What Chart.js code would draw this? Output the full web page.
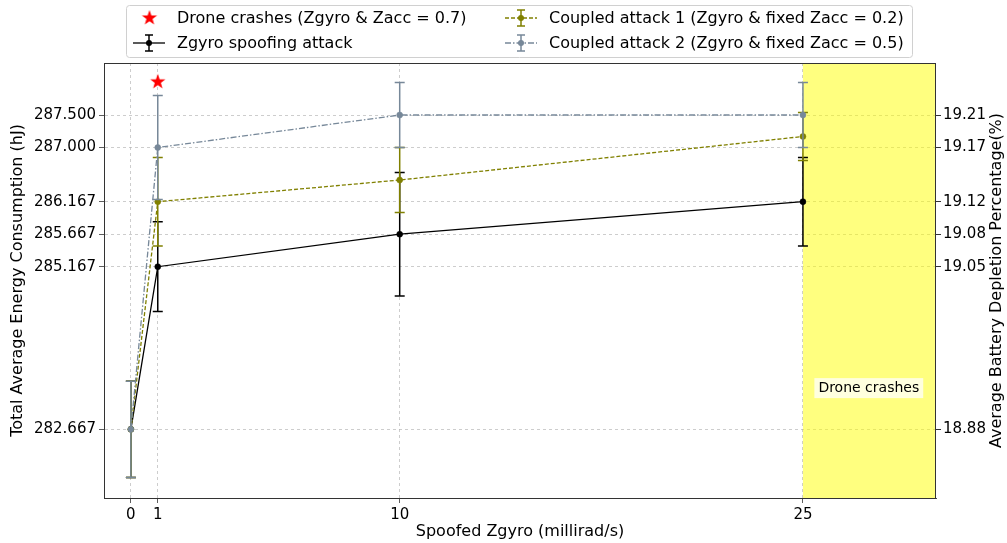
<!DOCTYPE html>
<html>
<head>
<meta charset="utf-8">
<script src="https://cdn.jsdelivr.net/npm/chart.js@4.4.1/dist/chart.umd.min.js"></script>
<style>
  body { margin: 0; background: #fff; }
  #wrap { width: 1007px; height: 543px; }
</style>
</head>
<body>
<div id="wrap"><canvas id="chart" width="1007" height="543"></canvas></div>
<script>
// spoofed Zgyro values (x)
var xVals = [0, 1, 10, 25];

// energy consumption (hJ) and error half-widths
var zgyro = [282.667, 285.167, 285.667, 286.167];
var zgyroErr = [0.74, 0.69, 0.95, 0.68];
var coupled1 = [282.667, 286.167, 286.50, 287.17];
var coupled1Err = [0.74, 0.68, 0.50, 0.37];
var coupled2 = [282.667, 287.0, 287.5, 287.5];
var coupled2Err = [0.74, 0.80, 0.50, 0.50];

// crash marker
var crashX = [1];
var crashY = [288.01];

// axis ticks
var leftTicks = [282.667, 285.167, 285.667, 286.167, 287.0, 287.5];
var leftLabels = ['282.667', '285.167', '285.667', '286.167', '287.000', '287.500'];
var rightLabels = ['18.88', '19.05', '19.08', '19.12', '19.17', '19.21'];

var FONT = 'DejaVu Sans';
var BLACK = '#000000', OLIVE = '#808000', GRAY = '#778899';

function pts(xs, ys) {
    return xs.map(function(x, i) { return { x: x, y: ys[i] }; });
}

// filled star for the crash marker
function makeStar(r, color) {
    var c = document.createElement('canvas');
    c.width = r * 2 + 2;
    c.height = r * 2 + 2;
    var g = c.getContext('2d');
    g.fillStyle = color;
    g.beginPath();
    for (var i = 0; i < 10; i++) {
        var rr = i % 2 == 0 ? r : r * 0.4;
        var a = -Math.PI / 2 + i * Math.PI / 5;
        var px = r + 1 + rr * Math.cos(a), py = r + 1 + rr * Math.sin(a);
        if (i == 0) g.moveTo(px, py); else g.lineTo(px, py);
    }
    g.closePath();
    g.fill();
    return c;
}
var starImg = makeStar(8, '#ff0000');

var errorBars = {
    id: 'errorBars',
    afterDatasetDraw: function(chart, args) {
        var ds = chart.data.datasets[args.index];
        if (!ds.errs) return;
        var ctx = chart.ctx, xs = chart.scales.x, ys = chart.scales.y;
        ctx.save();
        ctx.strokeStyle = ds.errColor;
        ctx.lineWidth = 1.5;
        ds.data.forEach(function(p, i) {
            var px = xs.getPixelForValue(p.x);
            var top = ys.getPixelForValue(p.y + ds.errs[i]);
            var bot = ys.getPixelForValue(p.y - ds.errs[i]);
            ctx.beginPath();
            ctx.moveTo(px, top); ctx.lineTo(px, bot);
            ctx.moveTo(px - 5, top); ctx.lineTo(px + 5, top);
            ctx.moveTo(px - 5, bot); ctx.lineTo(px + 5, bot);
            ctx.stroke();
        });
        ctx.restore();
    }
};

var crashZone = {
    id: 'crashZone',
    beforeDatasetsDraw: function(chart) {
        var ctx = chart.ctx, a = chart.chartArea, xs = chart.scales.x;
        var x0 = xs.getPixelForValue(25);
        ctx.save();
        ctx.fillStyle = 'rgba(255,255,0,0.5)';
        ctx.fillRect(x0, a.top, a.right - x0, a.bottom - a.top);
        ctx.restore();
    },
    afterDatasetsDraw: function(chart) {
        var ctx = chart.ctx, xs = chart.scales.x, ys = chart.scales.y, a = chart.chartArea;
        var cx = xs.getPixelForValue(27.45), cy = ys.getPixelForValue(283.30);
        ctx.save();
        ctx.font = '14px "' + FONT + '"';
        var w = ctx.measureText('Drone crashes').width;
        ctx.fillStyle = 'rgba(255,255,255,0.75)';
        ctx.fillRect(cx - w / 2 - 4, cy - 10, w + 8, 20);
        ctx.fillStyle = '#000';
        ctx.textAlign = 'center';
        ctx.textBaseline = 'middle';
        ctx.fillText('Drone crashes', cx, cy);
        // frame of the plot
        ctx.strokeStyle = '#333';
        ctx.lineWidth = 1;
        ctx.strokeRect(a.left + 0.5, a.top + 0.5, a.right - a.left - 1, a.bottom - a.top);
        ctx.restore();
    }
};

// legend box with error-bar glyphs, two columns; right axis title reading upwards
var legendBox = {
    id: 'legendBox',
    afterDraw: function(chart) {
        var ctx = chart.ctx;
        ctx.save();
        ctx.fillStyle = 'rgba(255,255,255,0.9)';
        ctx.strokeStyle = '#d0d0d0';
        ctx.lineWidth = 1;
        ctx.beginPath();
        ctx.roundRect(126.5, 5.5, 786, 52, 3);
        ctx.fill();
        ctx.stroke();

        ctx.font = '16px "' + FONT + '"';
        ctx.textBaseline = 'middle';
        ctx.fillStyle = '#000';
        var items = [
            { x: 149, y: 18, text: 'Drone crashes (Zgyro & Zacc = 0.7)', star: true },
            { x: 149, y: 43, text: 'Zgyro spoofing attack', color: BLACK, dash: [] },
            { x: 521, y: 18, text: 'Coupled attack 1 (Zgyro & fixed Zacc = 0.2)', color: OLIVE, dash: [4, 2] },
            { x: 521, y: 43, text: 'Coupled attack 2 (Zgyro & fixed Zacc = 0.5)', color: GRAY, dash: [6, 2, 1.5, 2] }
        ];
        items.forEach(function(it) {
            if (it.star) {
                ctx.drawImage(starImg, it.x - starImg.width / 2 + 0.5, it.y - starImg.height / 2);
            } else {
                ctx.strokeStyle = it.color;
                ctx.lineWidth = 1.3;
                ctx.setLineDash(it.dash);
                ctx.beginPath();
                ctx.moveTo(it.x - 16, it.y); ctx.lineTo(it.x + 16, it.y);
                ctx.stroke();
                ctx.setLineDash([]);
                ctx.lineWidth = 1.5;
                ctx.beginPath();
                ctx.moveTo(it.x, it.y - 8); ctx.lineTo(it.x, it.y + 8);
                ctx.moveTo(it.x - 4, it.y - 8); ctx.lineTo(it.x + 4, it.y - 8);
                ctx.moveTo(it.x - 4, it.y + 8); ctx.lineTo(it.x + 4, it.y + 8);
                ctx.stroke();
                ctx.fillStyle = it.color;
                ctx.beginPath();
                ctx.arc(it.x, it.y, 3, 0, Math.PI * 2);
                ctx.fill();
            }
            ctx.fillStyle = '#000';
            ctx.fillText(it.text, it.x + 28, it.y + 1);
        });

        // right axis title
        var a = chart.chartArea;
        ctx.translate(997, (a.top + a.bottom) / 2);
        ctx.rotate(-Math.PI / 2);
        ctx.textAlign = 'center';
        ctx.textBaseline = 'middle';
        ctx.fillText('Average Battery Depletion Percentage(%)', 0, 0);
        ctx.restore();
    }
};

var gridOpts = {
    color: 'rgba(176,176,176,0.8)',
    lineWidth: 0.8,
    tickColor: '#333',
    tickLength: 5,
    tickBorderDash: []
};
var borderOpts = { color: '#333', width: 1, dash: [3, 3] };

var ctx = document.getElementById('chart').getContext('2d');
var myChart = new Chart(ctx, {
    type: 'scatter',
    data: {
        datasets: [{
            label: 'Drone crashes (Zgyro & Zacc = 0.7)',
            data: pts(crashX, crashY),
            pointStyle: starImg,
            order: 0
        }, {
            label: 'Zgyro spoofing attack',
            data: pts(xVals, zgyro),
            errs: zgyroErr,
            errColor: BLACK,
            showLine: true,
            borderColor: BLACK,
            backgroundColor: BLACK,
            borderWidth: 1.3,
            pointRadius: 3,
            pointBorderWidth: 0.5,
            order: 3
        }, {
            label: 'Coupled attack 1 (Zgyro & fixed Zacc = 0.2)',
            data: pts(xVals, coupled1),
            errs: coupled1Err,
            errColor: OLIVE,
            showLine: true,
            borderColor: OLIVE,
            backgroundColor: OLIVE,
            borderWidth: 1.3,
            borderDash: [4, 2],
            pointRadius: 3,
            pointBorderWidth: 0.5,
            order: 2
        }, {
            label: 'Coupled attack 2 (Zgyro & fixed Zacc = 0.5)',
            data: pts(xVals, coupled2),
            errs: coupled2Err,
            errColor: GRAY,
            showLine: true,
            borderColor: GRAY,
            backgroundColor: GRAY,
            borderWidth: 1.3,
            borderDash: [6, 2, 1.5, 2],
            pointRadius: 3,
            pointBorderWidth: 0.5,
            order: 1
        }]
    },
    options: {
        responsive: false,
        animation: false,
        layout: { padding: { top: 63, left: 0, right: 0, bottom: 0 } },
        plugins: { legend: { display: false }, tooltip: { enabled: false } },
        scales: {
            x: {
                type: 'linear',
                min: -1,
                max: 29.95,
                afterBuildTicks: function(s) { s.ticks = xVals.map(function(v) { return { value: v }; }); },
                afterFit: function(s) { s.height = 45; },
                ticks: { color: '#000', font: { family: FONT, size: 15 }, padding: 3, callback: function(v) { return String(v); } },
                grid: gridOpts,
                border: borderOpts,
                title: { display: true, text: 'Spoofed Zgyro (millirad/s)', color: '#000', font: { family: FONT, size: 16 }, padding: { top: 0, bottom: 2 } }
            },
            y: {
                type: 'linear',
                position: 'left',
                min: 281.61,
                max: 288.30,
                afterBuildTicks: function(s) { s.ticks = leftTicks.map(function(v) { return { value: v }; }); },
                afterFit: function(s) { s.width = 104; },
                ticks: { color: '#000', font: { family: FONT, size: 15 }, padding: 3, callback: function(v, i) { return leftLabels[i]; } },
                grid: gridOpts,
                border: borderOpts,
                title: { display: true, text: 'Total Average Energy Consumption (hJ)', color: '#000', font: { family: FONT, size: 16 }, padding: { top: 8, bottom: 0 } }
            },
            y2: {
                type: 'linear',
                position: 'right',
                min: 281.61,
                max: 288.30,
                afterBuildTicks: function(s) { s.ticks = leftTicks.map(function(v) { return { value: v }; }); },
                afterFit: function(s) { s.width = 71; },
                ticks: { color: '#000', font: { family: FONT, size: 15 }, padding: 2, callback: function(v, i) { return rightLabels[i]; } },
                grid: { drawOnChartArea: false, tickColor: '#333', tickLength: 5 },
                border: { display: false }
            }
        }
    },
    plugins: [crashZone, errorBars, legendBox]
});
</script>
</body>
</html>
